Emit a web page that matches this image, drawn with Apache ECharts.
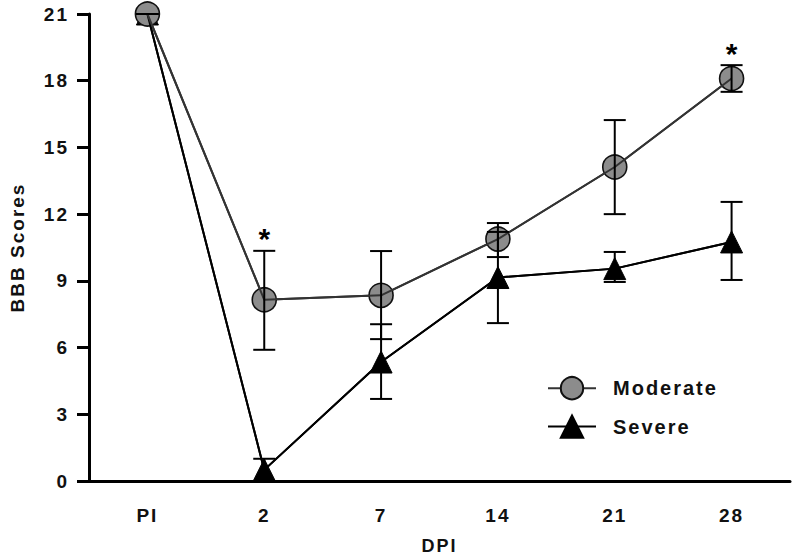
<!DOCTYPE html>
<html>
<head>
<meta charset="utf-8">
<style>html,body{margin:0;padding:0;background:#fff;overflow:hidden}#c{width:792px;height:557px;overflow:hidden}#c svg{display:block}#c text{letter-spacing:2px}</style>
<script src="https://cdn.jsdelivr.net/npm/echarts@6/dist/echarts.min.js"></script>
</head>
<body>
<div id="c"></div>
<script>
var categories = ['PI', '2', '7', '14', '21', '28'];
var yTicks = [0, 3, 6, 9, 12, 15, 18, 21];
var moderateMean = [21, 8.15, 8.35, 10.88, 14.12, 18.1];
var moderateLow  = [21, 5.9, 6.38, 10.07, 12.0, 17.5];
var moderateHigh = [21, 10.35, 10.34, 11.6, 16.23, 18.7];
var severeMean = [21, 0.5, 5.35, 9.15, 9.55, 10.75];
var severeLow  = [21, 0, 3.69, 7.1, 8.95, 9.04];
var severeHigh = [21, 1.0, 7.05, 11.2, 10.3, 12.55];
var significance = ['', '*', '', '', '', '*'];

var FONT = '"Liberation Sans", Arial, sans-serif';

function errData(low, high) {
  return categories.map(function (c, i) { return [i, low[i], high[i]]; });
}
function errRender(capW) {
  return function (params, api) {
    var x = api.value(0);
    var lo = api.coord([x, api.value(1)]);
    var hi = api.coord([x, api.value(2)]);
    var st = { stroke: '#000', lineWidth: 2 };
    return {
      type: 'group',
      children: [
        { type: 'line', shape: { x1: lo[0], y1: lo[1], x2: hi[0], y2: hi[1] }, style: st },
        { type: 'line', shape: { x1: hi[0] - capW / 2, y1: hi[1], x2: hi[0] + capW / 2, y2: hi[1] }, style: st },
        { type: 'line', shape: { x1: lo[0] - capW / 2, y1: lo[1], x2: lo[0] + capW / 2, y2: lo[1] }, style: st }
      ]
    };
  };
}

var chart = echarts.init(document.getElementById('c'), null, { renderer: 'svg', width: 792, height: 557 });
chart.setOption({
  animation: false,
  backgroundColor: '#fff',
  grid: { left: 89, right: 2, top: 14, bottom: 76, containLabel: false, outerBoundsMode: 'none' },
  legend: {
    orient: 'vertical',
    left: 547,
    top: 376,
    padding: 0,
    itemWidth: 48,
    itemHeight: 28,
    itemGap: 14,
    data: ['Moderate', 'Severe'],
    textStyle: { fontFamily: FONT, fontWeight: 'bold', fontSize: 20, color: '#111', padding: [0, 0, 0, 12] }
  },
  xAxis: {
    type: 'category',
    data: categories,
    boundaryGap: true,
    name: 'DPI',
    nameLocation: 'middle',
    nameGap: 56,
    nameTextStyle: { fontFamily: FONT, fontWeight: 'bold', fontSize: 18, color: '#111' },
    axisLine: { lineStyle: { color: '#000', width: 3 } },
    axisTick: { alignWithLabel: true, length: 10, lineStyle: { color: '#000', width: 3 } },
    axisLabel: { fontFamily: FONT, fontWeight: 'bold', fontSize: 19, color: '#111', margin: 25 },
    splitLine: { show: false }
  },
  yAxis: {
    type: 'value',
    min: 0, max: 21, interval: 3,
    name: 'BBB Scores',
    nameLocation: 'middle',
    nameGap: 62,
    nameRotate: 90,
    nameTextStyle: { fontFamily: FONT, fontWeight: 'bold', fontSize: 19, color: '#111' },
    axisLine: { show: true, lineStyle: { color: '#000', width: 3 } },
    axisTick: { show: true, length: 12, lineStyle: { color: '#000', width: 3 } },
    axisLabel: {
      fontFamily: FONT, fontWeight: 'bold', fontSize: 19, color: '#111', margin: 20,
      formatter: function (v) { return yTicks.indexOf(v) >= 0 ? String(v) : ''; }
    },
    splitLine: { show: false }
  },
  series: [
    {
      name: 'Severe', type: 'line', data: severeMean, z: 2,
      symbol: 'triangle', symbolSize: [22, 22], showAllSymbol: true,
      lineStyle: { color: '#000', width: 2 },
      itemStyle: { color: '#000', borderColor: '#000', borderWidth: 1 }
    },
    {
      name: 'Moderate', type: 'line', data: moderateMean, z: 3,
      symbol: 'circle', symbolSize: 24, showAllSymbol: true,
      lineStyle: { color: '#333', width: 2 },
      itemStyle: { color: '#8c8c8c', borderColor: '#111', borderWidth: 1.6 }
    },
    {
      name: 'sevLine', type: 'line', data: severeMean, z: 4, symbol: 'none',
      lineStyle: { color: '#000', width: 2 }, silent: true
    },
    {
      name: 'modLine', type: 'line', data: moderateMean, z: 4, symbol: 'none',
      lineStyle: { color: '#333', width: 2 }, silent: true
    },
    {
      name: 'sevErr', type: 'custom', z: 5, data: errData(severeLow, severeHigh),
      renderItem: errRender(22), silent: true
    },
    {
      name: 'modErr', type: 'custom', z: 5, data: errData(moderateLow, moderateHigh),
      renderItem: errRender(22), silent: true
    },
    {
      name: 'sig', type: 'custom', z: 6,
      data: categories.map(function (c, i) { return [i, moderateHigh[i]]; }),
      renderItem: function (params, api) {
        var i = params.dataIndex;
        if (!significance[i]) return null;
        var p = api.coord([api.value(0), api.value(1)]);
        return {
          type: 'text',
          style: {
            text: significance[i], x: p[0] + 1, y: p[1] + 3,
            align: 'center', verticalAlign: 'bottom',
            font: 'bold 30px ' + FONT, fill: '#000'
          }
        };
      },
      silent: true
    }
  ]
});
</script>
</body>
</html>
